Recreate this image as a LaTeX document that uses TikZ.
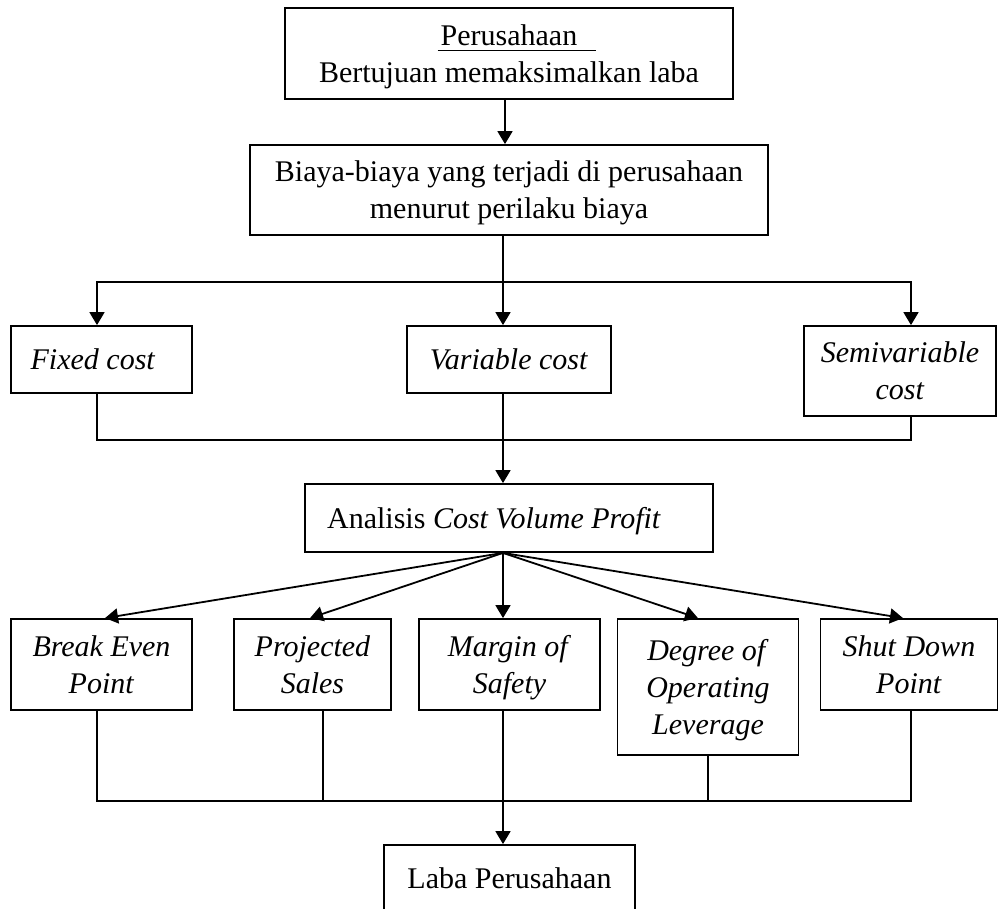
\documentclass[tikz,border=0pt]{standalone}
\usepackage{fontspec}
\setmainfont{Liberation Serif}
\usetikzlibrary{arrows.meta}

\begin{document}
\begin{tikzpicture}[x=0.5pt, y=-0.5pt, >={Triangle[length=6.5pt, width=7.5pt]}, line width=0.9pt,
  font=\fontsize{15}{18.5}\selectfont,
  box/.style={draw, align=center, inner sep=2pt, text depth=0pt}]
\path[use as bounding box, clip] (0,0) rectangle (998,909);
\coordinate (axis) at (503,0);
% top level
\node[box, minimum width=224pt, minimum height=45.5pt] (goal) at (509,53.5) {\rlap{\hspace{-1.5pt}\rule[-3pt]{79pt}{0.9pt}}Perusahaan\\ Bertujuan memaksimalkan laba};
\node[box, minimum width=259pt, minimum height=45pt] (cost) at (509,190) {Biaya-biaya yang terjadi di perusahaan\\ menurut perilaku biaya};
% cost behaviour
\node[box, minimum width=90.5pt, minimum height=33.5pt] (fixed) at (101.5,359.5) {\textit{Fixed cost}\hspace*{8.5pt}};
\node[box, minimum width=102pt, minimum height=33.5pt] (var) at (509,359.5) {\textit{Variable cost}};
\node[box, minimum width=96pt, minimum height=45pt] (semi) at (900,371) {\textit{Semivariable}\\ \textit{cost}};
\node[box, minimum width=204pt, minimum height=34pt] (cvp) at (509,518) {Analisis \textit{Cost Volume Profit}\hspace*{15pt}};
% tools of analysis
\node[box, minimum width=90.5pt, minimum height=45.5pt] (bep) at (101.5,664.5) {\textit{Break Even}\\ \textit{Point}};
\node[box, minimum width=78.5pt, minimum height=45.5pt] (sales) at (312.5,664.5) {\textit{Projected}\\ \textit{Sales}};
\node[box, minimum width=90.5pt, minimum height=45.5pt] (mos) at (509.5,664.5) {\textit{Margin of}\\ \textit{Safety}};
\node[box, minimum width=90.5pt, minimum height=68pt] (dol) at (708,687) {\textit{Degree of}\\ \textit{Operating}\\ \textit{Leverage}};
\node[box, minimum width=88.5pt, minimum height=45.5pt] (sdp) at (909,664.5) {\textit{Shut Down}\\ \textit{Point}};
\node[box, minimum width=125.5pt, minimum height=33pt] (laba) at (509.5,878) {Laba Perusahaan};

\draw[->] ([xshift=-2pt]goal.south) -- ([xshift=-2pt]cost.north);
\draw (cost.south -| axis) -- ([yshift=-23pt]cost.south -| axis) coordinate (fork);
\draw[->] (fork) -| ([xshift=-2.25pt]fixed.north);
\draw[->] (fork) -| ([xshift=5.5pt]semi.north);
\draw[->] (fork) -- (var.north -| axis);
\draw ([xshift=-2.25pt]fixed.south) |- ([yshift=-11.5pt]semi.south -| axis) coordinate (merge) -| ([xshift=5.5pt]semi.south);
\draw (var.south -| axis) -- (merge);
\draw[->] (merge) -- (cvp.north -| axis);
\draw[->] (cvp.south -| axis) -- ([xshift=1.75pt]bep.north);
\draw[->] (cvp.south -| axis) -- ([xshift=-1.25pt]sales.north);
\draw[->] (cvp.south -| axis) -- (mos.north -| axis);
\draw[->] (cvp.south -| axis) -- ([xshift=-5pt]dol.north);
\draw[->] (cvp.south -| axis) -- ([xshift=-3pt]sdp.north);
\draw ([xshift=-2.25pt]bep.south) |- ([yshift=-22.5pt]dol.south -| axis) coordinate (sum) -| ([xshift=1pt]sdp.south);
\draw ([xshift=5.25pt]sales.south) -- ([xshift=5.25pt]sales.south |- sum);
\draw (dol.south) -- (dol.south |- sum);
\draw (mos.south -| axis) -- (sum);
\draw[->] (sum) -- (laba.north -| axis);
\end{tikzpicture}
\end{document}
